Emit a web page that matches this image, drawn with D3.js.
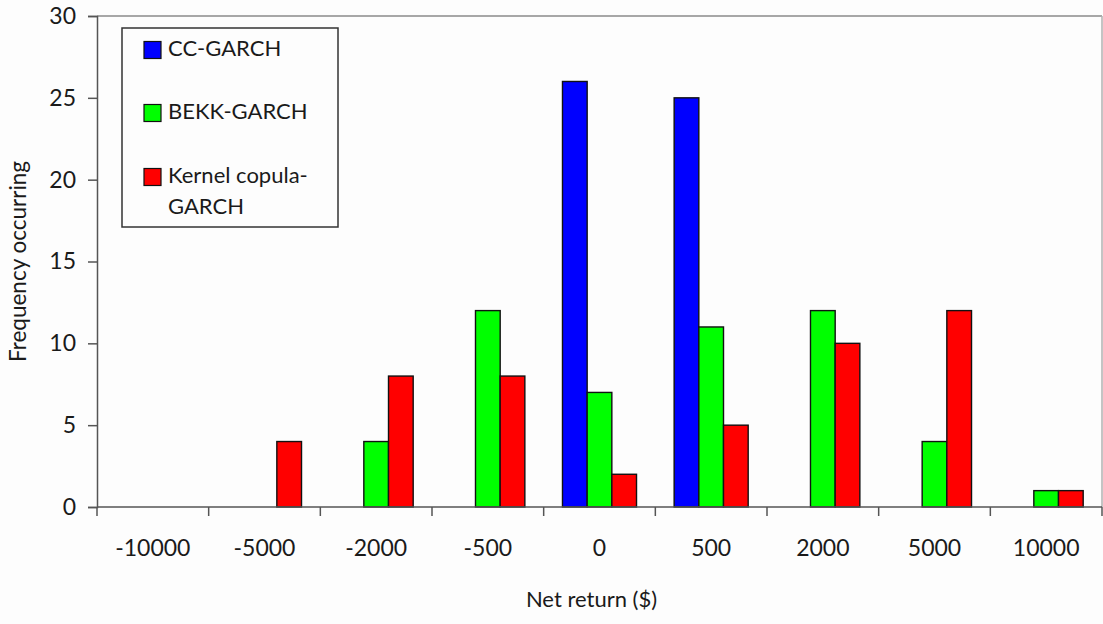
<!DOCTYPE html>
<html>
<head>
<meta charset="utf-8">
<script src="https://cdn.jsdelivr.net/npm/d3@7"></script>
<style>
  html, body { margin: 0; padding: 0; background: #fdfdfd; }
  svg { display: block; }
  text { font-family: Lato, "Open Sans", sans-serif; fill: #1a1a1a; }
</style>
</head>
<body>
<svg id="chart" width="1103" height="624"></svg>
<script>
const categories = ["-10000", "-5000", "-2000", "-500", "0", "500", "2000", "5000", "10000"];
const seriesNames = ["CC-GARCH", "BEKK-GARCH", "Kernel copula-GARCH"];
const ccGarch     = [0, 0, 0, 0, 26, 25, 0, 0, 0];
const bekkGarch   = [0, 0, 4, 12, 7, 11, 12, 4, 1];
const kernelCopula= [0, 4, 8, 8, 2, 5, 10, 12, 1];
const yTicks = [0, 5, 10, 15, 20, 25, 30];
const colors = ["#0000ff", "#00ff00", "#ff0000"];

const seriesValues = [ccGarch, bekkGarch, kernelCopula];

const svg = d3.select("#chart");
const pLeft = 97, pRight = 1102, pTop = 16, pBottom = 507;

const x0 = d3.scaleBand().domain(categories).range([pLeft, pRight])
  .paddingInner(0.337).paddingOuter(0.1685);
const x1 = d3.scaleBand().domain(d3.range(seriesNames.length)).range([0, x0.bandwidth()]).padding(0);
const y = d3.scaleLinear().domain([0, 30]).range([pBottom, pTop]);

// plot border (top & right)
svg.append("line").attr("x1", pLeft).attr("x2", pRight).attr("y1", pTop).attr("y2", pTop)
  .attr("stroke", "#8a8a8a").attr("stroke-width", 1.5);
svg.append("line").attr("x1", pRight).attr("x2", pRight).attr("y1", pTop).attr("y2", pBottom)
  .attr("stroke", "#b0b0b0").attr("stroke-width", 1.5);

// bars
const data = [];
categories.forEach((c, i) => {
  seriesValues.forEach((vals, s) => {
    if (vals[i] > 0) data.push({ cat: c, s, v: vals[i] });
  });
});
svg.append("g").selectAll("rect").data(data).join("rect")
  .attr("x", d => x0(d.cat) + x1(d.s))
  .attr("width", x1.bandwidth())
  .attr("y", d => y(d.v))
  .attr("height", d => y(0) - y(d.v))
  .attr("fill", d => colors[d.s])
  .attr("stroke", "#111")
  .attr("stroke-width", 1.4);

// y axis
const yAxis = d3.axisLeft(y).tickValues(yTicks).tickSize(9).tickPadding(12);
const gy = svg.append("g").attr("transform", `translate(${pLeft},0)`).call(yAxis);
gy.attr("font-family", null).attr("font-size", null);
gy.select(".domain").attr("stroke", "#555").attr("stroke-width", 1.5);
gy.selectAll(".tick line").attr("stroke", "#555").attr("stroke-width", 1.5);
gy.selectAll("text").style("font-size", "23px").attr("fill", "#1a1a1a");

// x axis: ticks at category boundaries
const xAxisG = svg.append("g").attr("transform", `translate(0,${pBottom})`);
xAxisG.append("line").attr("x1", pLeft).attr("x2", pRight).attr("stroke", "#555").attr("stroke-width", 1.5);
const step = x0.step();
const boundaries = d3.range(categories.length + 1).map(i => pLeft + i * step);
xAxisG.selectAll("line.tk").data(boundaries).join("line").attr("class", "tk")
  .attr("x1", d => d).attr("x2", d => d).attr("y1", 0).attr("y2", 9)
  .attr("stroke", "#555").attr("stroke-width", 1.5);
xAxisG.selectAll("text.lbl").data(categories).join("text").attr("class", "lbl")
  .attr("x", d => x0(d) + x0.bandwidth() / 2)
  .attr("y", 43)
  .attr("text-anchor", "middle")
  .attr("dominant-baseline", "middle")
  .style("font-size", "23px")
  .text(d => d);

// axis titles
svg.append("text").attr("x", (pLeft + pRight) / 2 - 8).attr("y", 601)
  .attr("text-anchor", "middle").attr("dominant-baseline", "middle")
  .style("font-size", "22px").text("Net return ($)");
svg.append("text")
  .attr("transform", `translate(20,${(pTop + pBottom) / 2}) rotate(-90)`)
  .attr("text-anchor", "middle").attr("dominant-baseline", "middle")
  .style("font-size", "22.5px").text("Frequency occurring");

// legend
const lg = svg.append("g");
lg.append("rect").attr("x", 122).attr("y", 28).attr("width", 216).attr("height", 199)
  .attr("fill", "#fdfdfd").attr("stroke", "#333").attr("stroke-width", 1.5);
const legendRows = [
  { lines: ["CC-GARCH"], y: 50 },
  { lines: ["BEKK-GARCH"], y: 113 },
  { lines: ["Kernel copula-", "GARCH"], y: 177 }
];
legendRows.forEach((r, i) => {
  lg.append("rect").attr("x", 144).attr("y", r.y - 8.5).attr("width", 17).attr("height", 17)
    .attr("fill", colors[i]).attr("stroke", "#111").attr("stroke-width", 1.2);
  r.lines.forEach((t, j) => {
    lg.append("text").attr("x", 168).attr("y", r.y + j * 31)
      .attr("dominant-baseline", "middle").style("font-size", "22px").text(t);
  });
});
</script>
</body>
</html>
